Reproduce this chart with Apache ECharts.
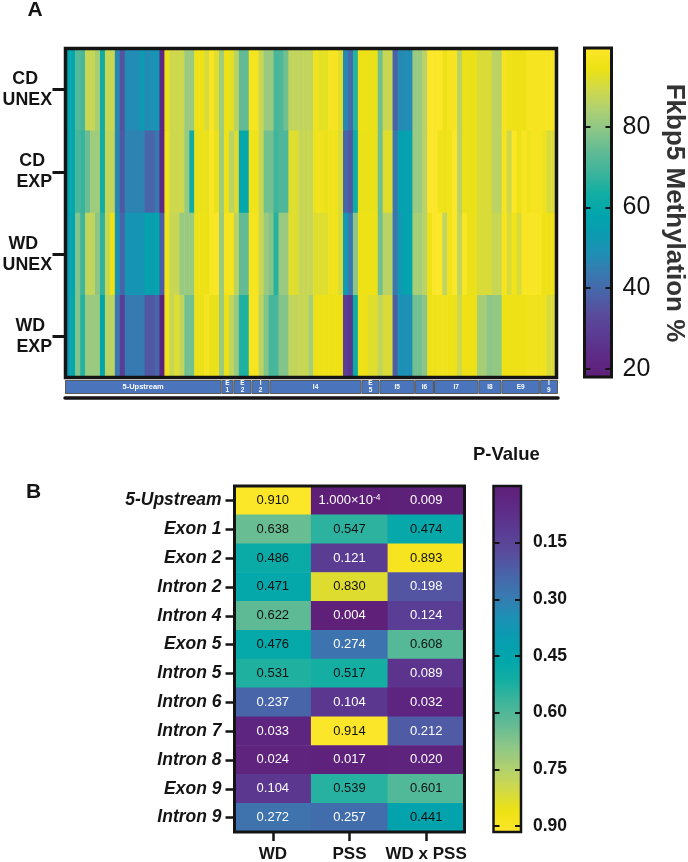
<!DOCTYPE html>
<html>
<head>
<meta charset="utf-8">
<title>Fkbp5 Methylation</title>
<script src="https://cdn.jsdelivr.net/npm/echarts@6/dist/echarts.min.js"></script>
<style>
  html, body { margin: 0; padding: 0; background: #fff; }
  #chart { width: 688px; height: 862px; }
</style>
</head>
<body>
<div id="chart"></div>
<script>
// panel A: methylation % per CpG site, one list per group
const groups = ['CD\nUNEX', 'CD\nEXP', 'WD\nUNEX', 'WD\nEXP'];
const cdUnex = [58,60,72,70,88,88,83,63,88,88,47,35,48,48,48,53,48,49,51,22,94,89,89,89,81,81,95,95,91,98,92,82,95,93,86,74,74,97,97,88,81,81,70,71,76,87,87,87,87,87,96,93,93,97,97,92,47,40,66,95,95,94,94,76,88,88,38,47,48,48,81,81,86,99,99,99,95,97,97,86,94,94,94,91,91,91,86,86,97,96,95,95,95,97,97,97,97,97,97];
const cdExp = [56,60,70,68,75,82,82,63,87,87,47,36,46,46,46,46,39,39,43,22,96,89,89,89,81,63,94,94,94,98,94,82,95,86,91,60,60,96,96,88,76,76,69,71,71,92,92,88,88,88,96,96,94,96,96,91,39,36,62,94,94,94,94,76,92,92,43,56,56,56,81,81,86,99,99,96,95,96,99,86,94,94,94,91,91,91,86,86,97,89,99,95,98,96,97,97,96,91,91];
const wdUnex = [54,59,78,69,87,87,79,67,88,95,50,39,51,51,51,51,56,54,58,37,96,88,88,81,81,81,95,95,95,98,98,81,97,97,86,74,74,97,97,88,81,78,66,81,81,92,92,88,88,88,92,92,92,96,96,91,52,43,79,95,95,95,95,76,86,86,43,52,56,58,83,83,86,95,99,99,87,96,99,87,98,94,94,91,91,91,88,88,97,91,96,91,98,98,98,98,95,95,95];
const wdExp = [52,60,78,66,81,81,81,59,86,86,43,29,44,44,44,44,36,36,39,20,96,88,92,87,76,76,94,94,97,94,94,81,94,87,81,65,65,97,97,86,78,70,70,78,78,87,87,88,88,83,95,95,95,95,95,95,29,27,62,95,95,92,92,87,91,91,37,49,49,49,76,76,79,95,95,96,96,95,95,89,95,95,95,83,83,79,80,80,95,95,95,95,95,96,96,96,96,91,91];
const methRows = [cdUnex, cdExp, wdUnex, wdExp];
const siteIds = cdUnex.map((_, i) => i);

// gene regions under panel A, span counted in CpG sites
const regionNames = ['5-Upstream', 'E\n1', 'E\n2', 'I\n2', 'I4', 'E\n5', 'I5', 'I6', 'I7', 'I8', 'E9', 'I\n9'];
const regionSpans = [31, 2.4, 3.6, 3.6, 18.2, 3.6, 7, 3.8, 8.8, 4.6, 7.6, 3.6];
const regionTotal = regionSpans.reduce((a, b) => a + b, 0);

// panel B: P values
const regions = ['5-Upstream', 'Exon 1', 'Exon 2', 'Intron 2', 'Intron 4', 'Exon 5', 'Intron 5', 'Intron 6', 'Intron 7', 'Intron 8', 'Exon 9', 'Intron 9'];
const factors = ['WD', 'PSS', 'WD x PSS'];
const pWd = [0.910, 0.638, 0.486, 0.471, 0.622, 0.476, 0.531, 0.237, 0.033, 0.024, 0.104, 0.272];
const pPss = [0.0001, 0.547, 0.121, 0.830, 0.004, 0.274, 0.517, 0.104, 0.914, 0.017, 0.539, 0.257];
const pInter = [0.009, 0.474, 0.893, 0.198, 0.124, 0.608, 0.089, 0.032, 0.212, 0.020, 0.601, 0.441];
const pColumns = [pWd, pPss, pInter];

// colour bar ticks
const methTicks = [20, 40, 60, 80];
const pTicks = [0.15, 0.30, 0.45, 0.60, 0.75, 0.90];

const palette = ['#5e1f78', '#5e2a86', '#5a3a92', '#5a4a9c', '#4a62a8', '#3a78b0', '#1f8fb5', '#0a9cb0', '#00a6ac',
  '#14aea2', '#40b59c', '#62bb94', '#8cc688', '#aed072', '#d0d94a', '#ece214', '#fde62a'];
const font = '"Liberation Sans", Arial, sans-serif';
const ink = '#141414';

const methData = [];
methRows.forEach((row, r) => row.forEach((v, c) => methData.push([c, r, v])));

const pData = [];
pColumns.forEach((col, c) => col.forEach((v, r) => {
  pData.push({ value: [c, r, v], label: { color: v < 0.3 ? '#fff' : '#111' } }); // 深色格子用白字
}));

// outerBoundsMode 关掉，否则 v6 会因为标签贴边而挪动 grid
const frame = { show: true, borderColor: ink, backgroundColor: 'transparent', z: 5, outerBoundsMode: 'none' };
const hiddenCat = (gridIndex, data) => ({ type: 'category', gridIndex, data, show: false });

// the axis pair that puts inner ticks on a colour bar
const barAxes = (gridIndex, min, max, ticks, inverse, labelStyle) => {
  const base = {
    type: 'value', gridIndex, min, max, inverse, z: 6,
    splitLine: { show: false },
    axisLine: { show: false }
  };
  const tick = { show: true, inside: true, length: 6, customValues: ticks, lineStyle: { color: ink, width: 2 } };
  return [
    Object.assign({}, base, { position: 'left', axisTick: tick, axisLabel: { show: false } }),
    Object.assign({}, base, { position: 'right', axisTick: tick, axisLabel: Object.assign({ customValues: ticks, fontFamily: font, color: ink }, labelStyle) })
  ];
};

const groupLine = { fontFamily: font, fontWeight: 'bold', fontSize: 17.8, lineHeight: 21, color: ink };

const regionSeries = regionNames.map((name, i) => ({
  type: 'bar', xAxisIndex: 1, yAxisIndex: 1, stack: 'regions', barWidth: '100%', silent: true,
  data: [regionSpans[i]],
  itemStyle: { color: '#4a74bb', borderColor: '#5a5a5a', borderWidth: 1 },
  label: {
    show: true, position: 'inside', formatter: name, color: '#fff', fontFamily: font,
    fontWeight: 'bold', fontSize: name.length > 4 ? 7.5 : 6.5, lineHeight: 7
  }
}));

const option = {
  animation: false,
  grid: [
    Object.assign({ left: 65.5, top: 48.5, width: 491, height: 329, borderWidth: 3.5 }, frame),
    { left: 65, top: 380, width: 493, height: 14, outerBoundsMode: 'none' },
    Object.assign({ left: 584.5, top: 48, width: 27, height: 329, borderWidth: 3 }, frame),
    Object.assign({ left: 234.5, top: 486, width: 230, height: 346, borderWidth: 3 }, frame),
    Object.assign({ left: 493.5, top: 486, width: 27.5, height: 346, borderWidth: 2.5 }, frame)
  ],
  xAxis: [
    hiddenCat(0, siteIds),
    {
      type: 'value', gridIndex: 1, min: 0, max: regionTotal, offset: 3.5,
      axisLine: { show: true, onZero: false, lineStyle: { color: ink, width: 3.5 } },
      axisTick: { show: false }, axisLabel: { show: false }, splitLine: { show: false }
    },
    hiddenCat(2, ['']),
    {
      type: 'category', gridIndex: 3, data: factors, position: 'bottom',
      axisLine: { show: false },
      axisTick: { show: true, alignWithLabel: true, length: 9, lineStyle: { color: ink, width: 2.5 } },
      axisLabel: { interval: 0, fontFamily: font, fontWeight: 'bold', fontSize: 17, color: ink, margin: 13.5 }
    },
    hiddenCat(4, [''])
  ],
  yAxis: [
    {
      type: 'category', gridIndex: 0, data: groups, inverse: true,
      axisLine: { show: false },
      axisTick: { show: true, alignWithLabel: true, length: 13, lineStyle: { color: ink, width: 3 } },
      axisLabel: {
        interval: 0, align: 'right', margin: 13.5, color: ink,
        // 每行右对齐，CD/WD 再向左缩进
        formatter: v => {
          const [top, bottom] = v.split('\n');
          return '{' + (bottom === 'UNEX' ? 'u' : 'e') + '|' + top + '}\n{b|' + bottom + '}';
        },
        rich: {
          u: Object.assign({ padding: [0, 14, 0, 0] }, groupLine),
          e: Object.assign({ padding: [0, 7, 0, 0] }, groupLine),
          b: groupLine
        }
      }
    },
    { type: 'category', gridIndex: 1, data: [''], show: false },
    ...barAxes(2, 18, 99.5, methTicks, false, { fontSize: 25, margin: 11 }),
    {
      type: 'category', gridIndex: 3, data: regions, inverse: true,
      axisLine: { show: false },
      axisTick: { show: true, alignWithLabel: true, length: 9, lineStyle: { color: ink, width: 2.5 } },
      axisLabel: { interval: 0, fontFamily: font, fontWeight: 'bold', fontStyle: 'italic', fontSize: 17.5, color: ink, margin: 13 }
    },
    ...barAxes(4, 0, 0.916, pTicks, true, { fontSize: 17.5, fontWeight: 'bold', margin: 12, formatter: v => v.toFixed(2) })
  ],
  visualMap: [
    {
      type: 'continuous', seriesIndex: 0, min: 18, max: 99.5, left: 584.5, top: 48, itemWidth: 27, itemHeight: 329,
      padding: 0, text: null, calculable: false, hoverLink: false, inRange: { color: palette }
    },
    {
      type: 'continuous', seriesIndex: 1, min: 0, max: 0.916, inverse: true, left: 493.5, top: 486, itemWidth: 27.5, itemHeight: 346,
      padding: 0, text: null, calculable: false, hoverLink: false, inRange: { color: palette }
    }
  ],
  series: [
    { type: 'heatmap', xAxisIndex: 0, yAxisIndex: 0, data: methData, silent: true },
    {
      type: 'heatmap', xAxisIndex: 3, yAxisIndex: 4, data: pData, silent: true,
      label: {
        show: true, fontFamily: font, fontSize: 13,
        // PSS 的最小值用科学计数法显示
        formatter: p => p.value[2] < 0.001 ? '1.000×10{sup|-4}' : p.value[2].toFixed(3),
        rich: { sup: { fontSize: 8.5, verticalAlign: 'top', color: '#fff', fontFamily: font, padding: [0, 0, 5, 0] } }
      }
    },
    ...regionSeries
  ],
  graphic: [
    { type: 'text', left: 27.5, top: 0, style: { text: 'A', font: 'bold 21px ' + font, fill: ink } },
    { type: 'text', left: 26, top: 482, style: { text: 'B', font: 'bold 21px ' + font, fill: ink } },
    { type: 'text', left: 473, top: 445, style: { text: 'P-Value', font: 'bold 18.5px ' + font, fill: ink } },
    {
      type: 'text', x: 674, y: 213, rotation: -Math.PI / 2,
      style: { text: 'Fkbp5 Methylation %', font: 'bold 26px ' + font, fill: '#333', align: 'center', verticalAlign: 'middle' }
    }
  ]
};

const chart = echarts.init(document.getElementById('chart'), null, { renderer: 'canvas' });
chart.setOption(option);
</script>
</body>
</html>
